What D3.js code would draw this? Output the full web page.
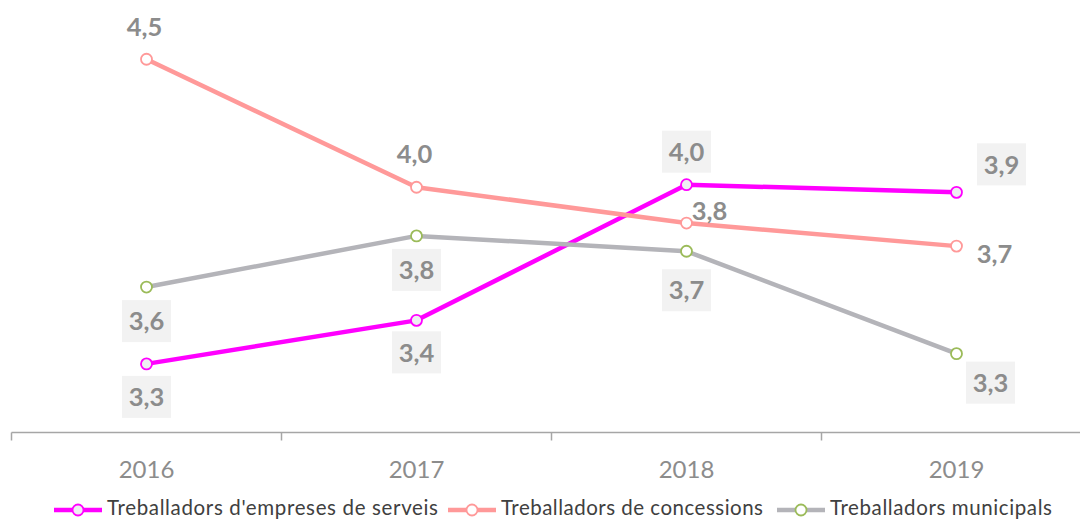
<!DOCTYPE html>
<html>
<head>
<meta charset="utf-8">
<script src="https://cdn.jsdelivr.net/npm/d3@7"></script>
<style>
  html, body { margin: 0; padding: 0; background: #fff; }
  svg { display: block; font-family: Lato, "Open Sans", sans-serif; }
</style>
</head>
<body>
<svg id="chart" width="1080" height="520"></svg>
<script>
// Years on the category axis
const years = ["2016", "2017", "2018", "2019"];

// Series values
const empresesServeis = [3.27, 3.44, 3.97, 3.94];
const concessions = [4.46, 3.96, 3.82, 3.73];
const municipals = [3.57, 3.77, 3.71, 3.31];

// Legend names
const seriesNames = [
  "Treballadors d'empreses de serveis",
  "Treballadors de concessions",
  "Treballadors municipals"
];

// Styling and label placement per series
const seriesStyle = [
  { line: "#ff00ff", stroke: "#ff00ff", fill: "#eeeef2" },
  { line: "#ff9999", stroke: "#ff9999", fill: "#ffffff" },
  { line: "#b4b4b9", stroke: "#9bbb59", fill: "#ffffff" }
];
// [dx, dy, boxed] per point
const labelPlacement = [
  [[0, 33, true], [0, 32, true], [0, -33, true], [45, -28, true]],
  [[-2, -32, false], [-2, -33, false], [23, -12, false], [38, 8, false]],
  [[0, 34, true], [0, 34, true], [0, 39, true], [34, 29, true]]
];

const seriesValues = [empresesServeis, concessions, municipals];

const svg = d3.select("#chart");
const axisY = 432.5;

const x = d3.scaleBand().domain(years).range([11.5, 1091.5]);
const y = d3.scaleLinear().domain([3.0, 4.6]).range([433, 433 - 1.6 * 256]);
const fmt = v => d3.format(".1f")(v).replace(".", ",");
const cx = d => x(d) + x.bandwidth() / 2;

// Category axis with ticks on the band boundaries
const axisG = svg.append("g").attr("transform", `translate(0,${axisY})`);
axisG.append("line")
  .attr("x1", 11.5).attr("x2", 1091.5)
  .attr("stroke", "#a6a6a6").attr("stroke-width", 1.5);
const boundaries = years.map(d => x(d)).concat([x(years[years.length - 1]) + x.bandwidth()]);
axisG.selectAll("line.tick").data(boundaries).join("line")
  .attr("class", "tick")
  .attr("x1", d => d).attr("x2", d => d)
  .attr("y1", 0).attr("y2", 8)
  .attr("stroke", "#a6a6a6").attr("stroke-width", 1.5);
axisG.selectAll("text").data(years).join("text")
  .attr("x", d => cx(d))
  .attr("y", 37)
  .attr("dy", "0.35em")
  .attr("text-anchor", "middle")
  .attr("fill", "#8c8c8c")
  .attr("font-size", 24)
  .text(d => d);

// Lines and markers
const line = d3.line().x((v, i) => cx(years[i])).y(v => y(v));

seriesValues.forEach((vals, s) => {
  const st = seriesStyle[s];
  svg.append("path")
    .datum(vals)
    .attr("d", line)
    .attr("fill", "none")
    .attr("stroke", st.line)
    .attr("stroke-width", 4.5)
    .attr("stroke-linejoin", "round");
});
seriesValues.forEach((vals, s) => {
  const st = seriesStyle[s];
  svg.append("g").selectAll("circle").data(vals).join("circle")
    .attr("cx", (v, i) => cx(years[i]))
    .attr("cy", v => y(v))
    .attr("r", 5.5)
    .attr("fill", st.fill)
    .attr("stroke", st.stroke)
    .attr("stroke-width", 1.8);
});

// Value labels
seriesValues.forEach((vals, s) => {
  const g = svg.append("g");
  vals.forEach((v, i) => {
    const [dx, dy, boxed] = labelPlacement[s][i];
    const tx = cx(years[i]) + dx;
    const ty = y(v) + dy;
    if (boxed) {
      g.append("rect")
        .attr("x", tx - 24.5).attr("y", ty - 21)
        .attr("width", 49).attr("height", 42)
        .attr("fill", "#f2f2f2");
    }
    g.append("text")
      .attr("x", tx).attr("y", ty)
      .attr("dy", "0.36em")
      .attr("text-anchor", "middle")
      .attr("font-size", 25.5)
      .attr("font-weight", "bold")
      .attr("fill", "#8c8c8c")
      .text(fmt(v));
  });
});

// Legend
const legendY = 510;
const legendStarts = [54, 448, 777];
const legendWidths = [331, 262, 222];
const legend = svg.append("g");
seriesNames.forEach((name, s) => {
  const st = seriesStyle[s];
  const x0 = legendStarts[s];
  legend.append("line")
    .attr("x1", x0).attr("x2", x0 + 48)
    .attr("y1", legendY).attr("y2", legendY)
    .attr("stroke", st.line).attr("stroke-width", 4.5);
  legend.append("circle")
    .attr("cx", x0 + 24).attr("cy", legendY).attr("r", 5.5)
    .attr("fill", st.fill).attr("stroke", st.stroke).attr("stroke-width", 1.8);
  legend.append("text")
    .attr("x", x0 + 53).attr("y", 515)
    .attr("font-size", 20.5)
    .attr("textLength", legendWidths[s])
    .attr("lengthAdjust", "spacing")
    .attr("fill", "#404040")
    .text(name);
});
</script>
</body>
</html>
